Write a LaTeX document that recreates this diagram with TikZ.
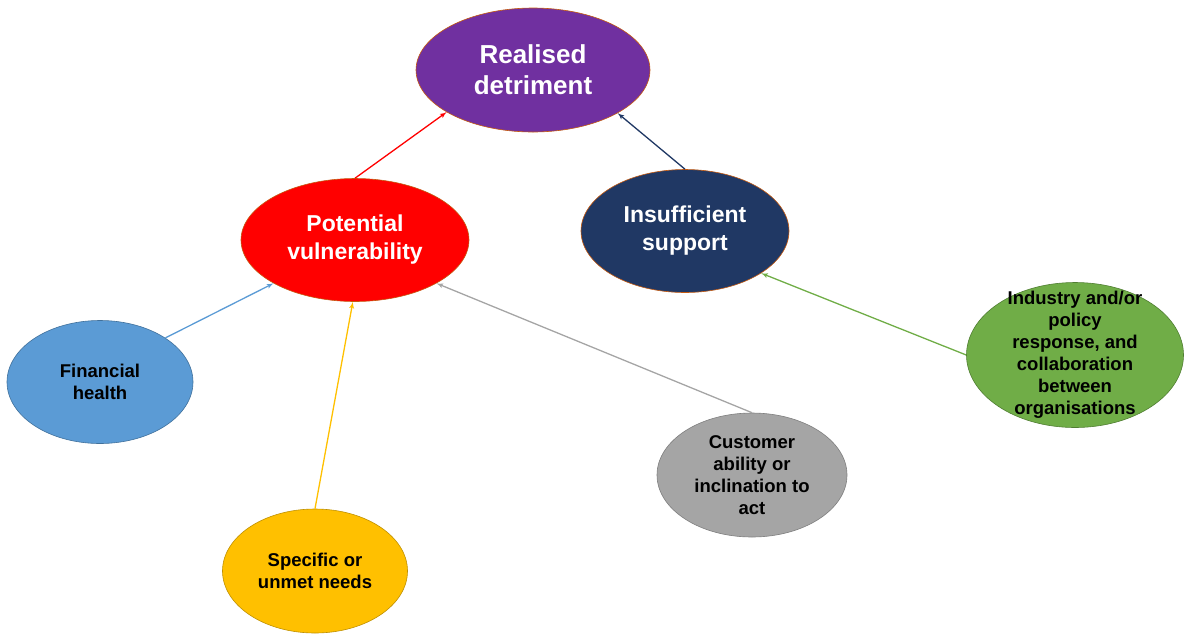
\documentclass[tikz,border=0pt]{standalone}
\usepackage{fontspec}
\setmainfont{Liberation Sans}
\usepackage{tikz}
\usetikzlibrary{arrows,shapes.geometric}
\definecolor{rdpurple}{HTML}{7030A0}
\definecolor{pvred}{HTML}{FF0000}
\definecolor{isnavy}{HTML}{203864}
\definecolor{fhblue}{HTML}{5B9BD5}
\definecolor{fhedge}{HTML}{41719C}
\definecolor{sngold}{HTML}{FFC000}
\definecolor{snedge}{HTML}{BF9000}
\definecolor{cagray}{HTML}{A5A5A5}
\definecolor{caedge}{HTML}{7F7F7F}
\definecolor{indgreen}{HTML}{70AD47}
\definecolor{indedge}{HTML}{507E32}
\definecolor{rimorange}{HTML}{C55A11}

\begin{document}
\begin{tikzpicture}[
    x=1pt, y=-1pt,
    >=latex',
    font=\bfseries,
    bubble/.style={
		ellipse,
		draw=rimorange,
		line width=0.6pt,
		inner sep=0pt,
		align=center
	},
	bigtext/.style={
		text=white,
		font=\bfseries\fontsize{23}{28}\selectfont
	},
	smalltext/.style={
		text=black,
		font=\bfseries\fontsize{18.5}{22}\selectfont
	},
	link/.style={
		->,
		line width=1.3pt
	}
  ]
  \useasboundingbox (0,0) rectangle (1184,633);
    % We start by placing the ellipses

  \node [bubble, fill=rdpurple, text=white, font=\bfseries\fontsize{26}{31}\selectfont,
         minimum width=234pt, minimum height=124pt] (realised) at (533,70)
  {Realised\\detriment};

  \node [bubble, bigtext, fill=pvred, minimum width=228pt, minimum height=123pt] (potential) at (355,240)
  {Potential\\vulnerability};

  \node [bubble, bigtext, fill=isnavy, minimum width=208pt, minimum height=123pt] (support) at (685,231)
  {Insufficient\\support};

  \node [bubble, smalltext, fill=fhblue, draw=fhedge, minimum width=186pt, minimum height=123pt] (financial) at (100,382)
  {Financial\\health};

  \node [bubble, smalltext, fill=sngold, draw=snedge, minimum width=185pt, minimum height=124pt] (needs) at (315,571)
  {Specific or\\unmet needs};

  \node [bubble, smalltext, fill=cagray, draw=caedge, minimum width=190pt, minimum height=124pt] (ability) at (752,475)
  {Customer\\ability or\\inclination to\\act};

  \node [bubble, smalltext, fill=indgreen, draw=indedge, inner ysep=-16pt,
         minimum width=217pt, minimum height=145pt] (industry) at (1075,355)
  {Industry and/or\\policy\\response, and\\collaboration\\between\\organisations};

 % then the arrows
 \draw [link, draw=pvred] (potential.north) -- (realised.206);
 \draw [link, draw=isnavy] (support.north) -- (realised.333);
 \draw [link, draw=fhblue] (financial.34) -- (potential.208);
 \draw [link, draw=sngold] (needs.north) -- (potential.268);
 \draw [link, draw=cagray] (ability.north) -- (potential.332);
 \draw [link, draw=indgreen] (industry.west) -- (support.331);

\end{tikzpicture}
\end{document}
